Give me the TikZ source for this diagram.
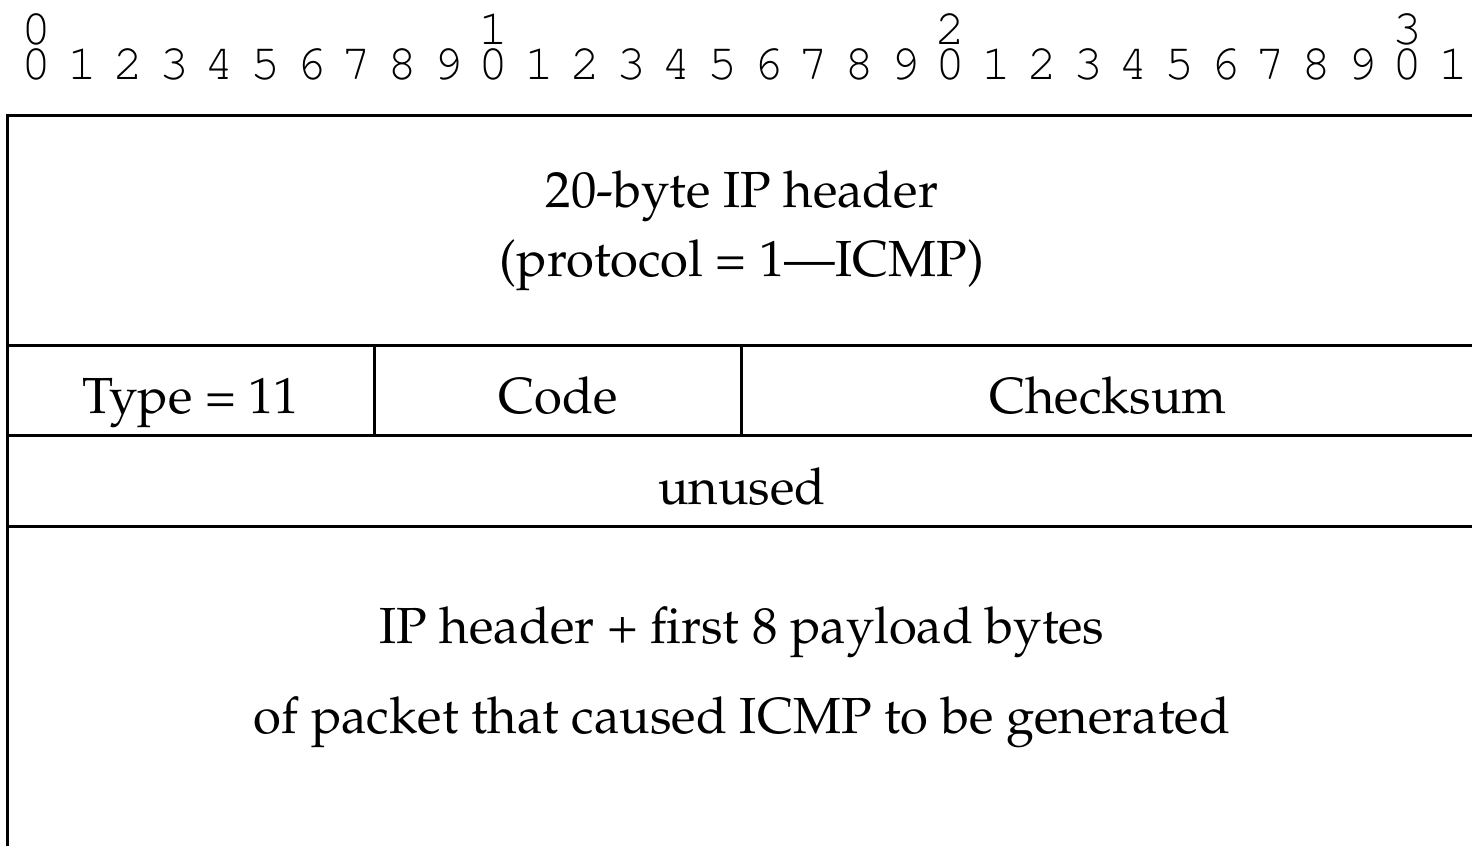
\documentclass[tikz,border=0pt]{standalone}
\usepackage[T1]{fontenc}
\usepackage{mathpazo}
\usepackage{courier}
\usepackage{tikz}

\tikzset{
  bitnum/.style={anchor=base, inner sep=0pt, font=\fontsize{10}{11}\selectfont\ttfamily},
  fieldtext/.style={anchor=base, inner sep=0pt, font=\fontsize{10.15}{12}\selectfont},
  rule/.style={line width=0.6pt}
}

\begin{document}
\begin{tikzpicture}[x=0.2pt,y=-0.2pt]
        \useasboundingbox (0,0) rectangle (1472,846);
        % bit numbers
        \foreach \t in {0,1,2,3}
            \node[bitnum] (tens\t) at ({37+457*\t},44) {\t};
        \foreach \i in {0,...,31} {
            \pgfmathtruncatemacro\d{mod(\i,10)}
            \node[bitnum] (bit\i) at ({37+45.7*\i},79) {\d};
        }
        % frame and rows
        \draw[rule] (8,846) -- (8,115) -- (1472,115);
        \draw[rule] (8,345) -- (1472,345);
        \draw[rule] (8,435) -- (1472,435);
        \draw[rule] (8,526) -- (1472,526);
        \draw[rule] (375,345) -- (375,435);
        \draw[rule] (742,345) -- (742,435);
        % fields
        \node[fieldtext] (iphdr) at (742,207) {20-byte IP header};
        \node[fieldtext] (proto) at (742,276) {(protocol = 1---ICMP)};
        \node[fieldtext] (type) at (191,413) {Type = 11};
        \node[fieldtext] (code) at (558,413) {Code};
        \node[fieldtext] (csum) at (1108,413) {Checksum};
        \node[fieldtext] (unused) at (742,504) {unused};
        \node[fieldtext] (orig) at (742,643) {IP header + first 8 payload bytes};
        \node[fieldtext] (cause) at (742,733) {of packet that caused ICMP to be generated};
    \end{tikzpicture}
\end{document}
